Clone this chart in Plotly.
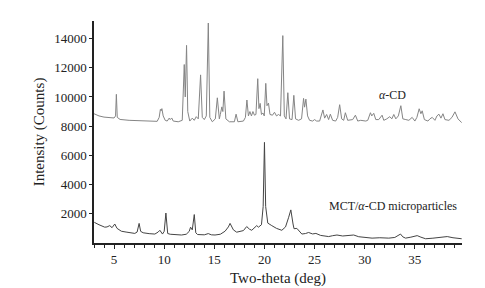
import plotly.graph_objects as go

alpha_x = [3.0, 3.5, 4.0, 4.5, 5.0, 5.15, 5.23, 5.32, 5.6, 6.5, 7.5, 8.5, 9.3, 9.5, 9.62, 9.7, 9.77, 9.9, 10.1, 10.3,
           10.5, 10.6, 10.75, 10.9, 11.4, 11.8, 12.0, 12.1, 12.23, 12.35, 12.55, 12.8, 13.0, 13.2, 13.4, 13.63, 13.8,
           14.0, 14.2, 14.4, 14.55, 14.8, 15.1, 15.3, 15.5, 15.6, 15.75, 15.85, 15.97, 16.15, 16.5, 17.0, 17.17,
           17.35, 17.9, 18.1, 18.25, 18.4, 18.55, 18.7, 18.85, 19.0, 19.15, 19.33, 19.45, 19.57, 19.7, 19.85, 19.98,
           20.13, 20.25, 20.4, 20.55, 20.8, 21.0, 21.2, 21.4, 21.6, 21.83, 21.98, 22.15, 22.33, 22.5, 22.75, 22.93,
           23.1, 23.4, 23.7, 23.9, 24.0, 24.13, 24.3, 24.5, 24.8, 25.0, 25.2, 25.5, 25.83, 26.0, 26.2, 26.4, 26.57,
           26.8, 27.1, 27.3, 27.5, 27.7, 27.9, 28.07, 28.3, 28.6, 28.8, 29.07, 29.3, 29.6, 29.8, 30.1, 30.3, 30.57,
           30.7, 30.9, 31.1, 31.4, 31.73, 31.9, 32.2, 32.5, 32.7, 32.9, 33.1, 33.35, 33.6, 33.8, 34.1, 34.4, 34.73,
           35.0, 35.2, 35.43, 35.6, 35.73, 35.95, 36.3, 36.5, 36.73, 37.0, 37.2, 37.4, 37.6, 37.8, 38.0, 38.4, 38.7,
           39.0, 39.3, 39.67]
alpha_y = [8850, 8700, 8620, 8580, 8560, 8700, 10180, 8600, 8460, 8400, 8360, 8330, 8330, 8600, 9150, 9050, 9200,
           8700, 8400, 8350, 8550, 8450, 8560, 8350, 8300, 8400, 12220, 10000, 13530, 9000, 8350, 8550, 8400, 8650,
           8500, 11510, 8600, 8450, 8700, 15060, 8600, 8300, 8500, 9940, 8500, 8800, 9320, 9000, 10400, 8500, 8300,
           8300, 8820, 8300, 8350, 8600, 9790, 8700, 9000, 8700, 9000, 8750, 8800, 11250, 9200, 9560, 8800, 8900,
           8700, 10930, 9400, 9580, 8800, 8750, 8950, 8700, 8800, 8700, 14200, 8700, 8500, 10290, 8500, 8450, 10110,
           8500, 8400, 8500, 9900, 9300, 9850, 8700, 8400, 8350, 8450, 8350, 8350, 9110, 8550, 8800, 8450, 8820,
           8400, 8350, 8600, 9470, 8500, 8400, 8920, 8400, 8400, 8450, 8750, 8350, 8400, 8380, 8350, 8400, 8920,
           8700, 8880, 8450, 8450, 8750, 8400, 8500, 8650, 8500, 8800, 8500, 8700, 9400, 8500, 8450, 8400, 8600,
           8350, 8600, 9190, 8850, 9050, 8450, 8350, 8500, 8600, 8400, 8700, 8820, 8550, 8850, 8450, 8400, 8600,
           8980, 8500, 8240]

mct_x = [3.0, 3.07, 3.5, 4.07, 4.3, 4.57, 4.8, 5.07, 5.3, 5.73, 6.2, 6.6, 7.07, 7.3, 7.5, 7.65, 7.9, 8.5, 9.07, 9.4,
         9.57, 9.83, 10.0, 10.17, 10.35, 10.6, 11.2, 11.73, 12.2, 12.5, 12.63, 12.8, 13.0, 13.15, 13.33, 14.0, 14.4,
         14.7, 15.07, 15.6, 16.07, 16.4, 16.57, 16.9, 17.23, 17.6, 17.9, 18.23, 18.5, 18.73, 19.0, 19.23, 19.4, 19.7,
         19.87, 20.0, 20.12, 20.33, 20.73, 21.2, 21.73, 22.1, 22.4, 22.63, 22.85, 22.95, 23.23, 23.5, 23.73, 24.1,
         24.4, 24.8, 25.13, 25.6, 26.0, 26.4, 26.8, 27.23, 27.8, 28.4, 28.9, 29.4, 30.0, 30.73, 31.5, 32.4, 33.0,
         33.3, 33.57, 33.8, 34.07, 34.6, 35.0, 35.23, 35.6, 36.07, 36.8, 37.5, 38.23, 38.8, 39.3, 39.67]
mct_y = [1450, 1400, 1250, 1084, 1100, 1190, 1050, 1300, 1000, 806, 750, 700, 656, 750, 1342, 800, 700, 640, 612, 750,
         870, 612, 800, 2051, 650, 600, 560, 548, 600, 800, 1084, 900, 1948, 700, 580, 560, 645, 560, 548, 600, 806,
         1100, 1342, 900, 741, 780, 850, 1126, 950, 870, 1050, 1190, 1084, 1250, 2500, 6890, 2500, 1363, 1190, 1000,
         870, 1100, 1729, 2266, 1300, 977, 1000, 750, 612, 650, 720, 620, 656, 520, 480, 440, 500, 548, 480, 500,
         548, 430, 380, 333, 360, 333, 380, 480, 612, 420, 333, 400, 470, 505, 400, 290, 330, 380, 440, 360, 320, 290]

x_ticks = [5, 10, 15, 20, 25, 30, 35]
y_ticks = [2000, 4000, 6000, 8000, 10000, 12000, 14000]

serif = "Liberation Serif, Times New Roman, serif"

fig = go.Figure()
fig.add_trace(go.Scatter(x=alpha_x, y=alpha_y, mode="lines",
                         line=dict(color="#858585", width=1), showlegend=False))
fig.add_trace(go.Scatter(x=mct_x, y=mct_y, mode="lines",
                         line=dict(color="#444444", width=1), showlegend=False))

fig.add_annotation(x=32.8, y=10130, text="<i>α</i>-CD", showarrow=False,
                   font=dict(family=serif, size=12, color="#222"))
fig.add_annotation(x=32.8, y=2500, text="MCT/<i>α</i>-CD microparticles", showarrow=False,
                   font=dict(family=serif, size=12, color="#222"))

fig.update_layout(
    width=485, height=288,
    margin=dict(l=86, r=31, t=13, b=40),
    paper_bgcolor="white", plot_bgcolor="white",
    font=dict(family=serif, size=13, color="#222"),
    xaxis=dict(range=[3, 39.7], tickvals=x_ticks, ticks="outside", ticklen=4, tickwidth=1,
               tickcolor="#222", showline=True, linecolor="#222", linewidth=1.5,
               showgrid=False, zeroline=False,
               minor=dict(dtick=1, tick0=0, ticks="outside", ticklen=3, tickcolor="#222", showgrid=False),
               title=dict(text="Two-theta (deg)", font=dict(family=serif, size=15), standoff=6)),
    yaxis=dict(range=[0, 15200], tickvals=y_ticks, tickformat="d", ticks="outside", ticklen=3, tickwidth=1,
               tickcolor="#222", showline=True, linecolor="#222", linewidth=1.5,
               showgrid=False, zeroline=False,
               title=dict(text="Intensity (Counts)", font=dict(family=serif, size=15), standoff=6)),
)

fig.write_html("out.html")
